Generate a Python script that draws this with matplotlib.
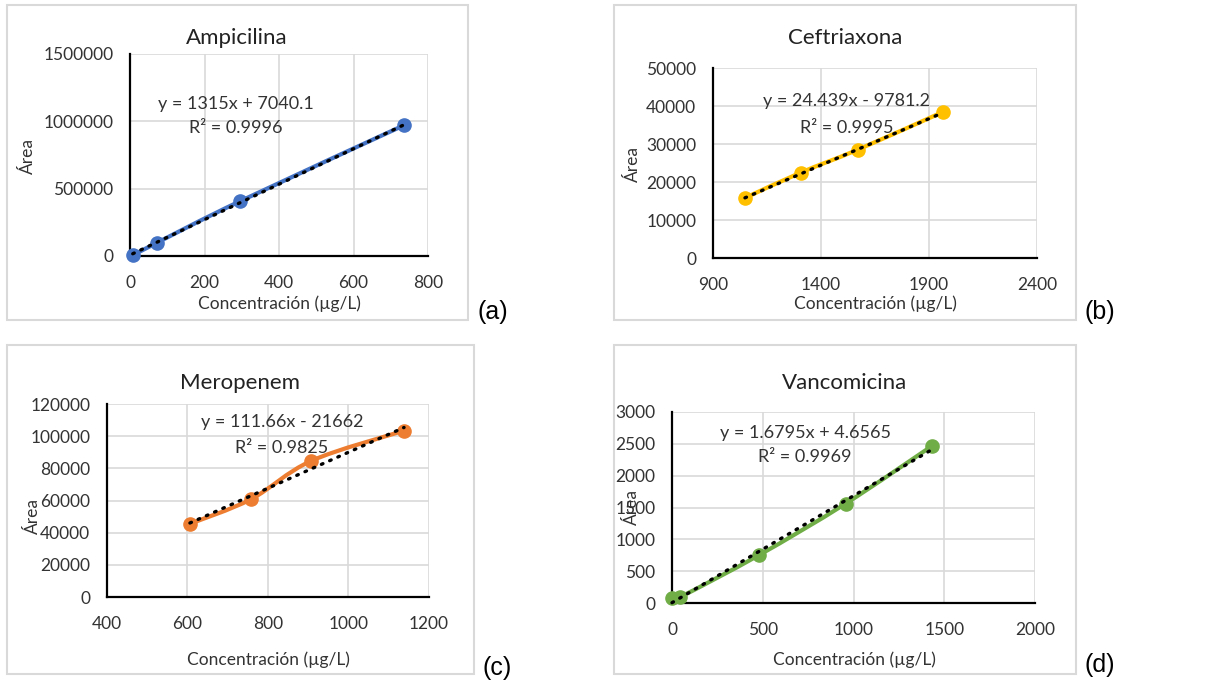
import numpy as np
import matplotlib
matplotlib.use('Agg')
import matplotlib.pyplot as plt
from matplotlib.path import Path
from matplotlib.patches import PathPatch, Rectangle

plt.rcParams['font.family'] = ['Lato', 'DejaVu Sans']

W, H = 1208, 683

# datos de calibración
amp_x = [7.35, 73.5, 294, 735]
amp_y = [5000, 100000, 405000, 970000]
cef_x = [1048, 1307, 1570, 1963]
cef_y = [15800, 22500, 28500, 38400]
mer_x = [606, 757, 908, 1138]
mer_y = [45500, 60700, 84700, 103400]
van_x = [0, 45, 478, 956, 1434]
van_y = [85, 95, 750, 1560, 2470]

# pendiente, intercepto y R² de cada línea de tendencia
trend_m = [1315, 24.439, 111.66, 1.6795]
trend_b = [7040.1, -9781.2, -21662, 4.6565]
eq_text = ['y = 1315x + 7040.1', 'y = 24.439x - 9781.2',
           'y = 111.66x - 21662', 'y = 1.6795x + 4.6565']
r2_text = ['R² = 0.9996', 'R² = 0.9995', 'R² = 0.9825', 'R² = 0.9969']

titles = ['Ampicilina', 'Ceftriaxona', 'Meropenem', 'Vancomicina']
letters = ['(a)', '(b)', '(c)', '(d)']
colors = ['#4472C4', '#FFC000', '#ED7D31', '#70AD47']

xticks = [[0, 200, 400, 600, 800], [900, 1400, 1900, 2400],
          [400, 600, 800, 1000, 1200], [0, 500, 1000, 1500, 2000]]
yticks = [[0, 500000, 1000000, 1500000], [0, 10000, 20000, 30000, 40000, 50000],
          [0, 20000, 40000, 60000, 80000, 100000, 120000],
          [0, 500, 1000, 1500, 2000, 2500, 3000]]

# posiciones en píxeles: ejes (izq, der, arriba, abajo) y marco
axes_px = [(130, 428, 54, 256), (713, 1037, 68, 258),
           (107, 429, 404, 597), (672, 1035, 412, 603)]
frame_px = [(7, 468, 5, 320), (614, 1076, 5, 320),
            (7, 474, 345, 674), (614, 1076, 345, 674)]
title_px = [(237, 38), (845, 38), (240, 383), (845, 383)]
eq_px = [(236, 104), (847, 101), (282, 422), (805, 433)]
r2_px = [(236, 128), (847, 128), (282, 448), (805, 457)]
xlab_px = [(279, 304), (875, 304), (268, 660), (854, 660)]
ylab_px = [(28, 156), (633, 164), (33, 516), (632, 507)]
let_px = [(493, 312), (1100, 312), (497, 668), (1100, 665)]


def fx(x):
    return x / W


def fy(y):
    return 1 - y / H


def smooth_path(xs, ys):
    # curva suavizada estilo Excel (Bezier por Catmull-Rom)
    p = np.column_stack([xs, ys]).astype(float)
    verts = [p[0]]
    codes = [Path.MOVETO]
    n = len(p)
    for i in range(n - 1):
        p0 = p[i - 1] if i > 0 else p[i]
        p3 = p[i + 2] if i + 2 < n else p[i + 1]
        c1 = p[i] + (p[i + 1] - p0) / 6
        c2 = p[i + 1] - (p3 - p[i]) / 6
        verts += [c1, c2, p[i + 1]]
        codes += [Path.CURVE4] * 3
    return Path(verts, codes)


fig = plt.figure(figsize=(W / 100, H / 100), dpi=100)

data = [(amp_x, amp_y), (cef_x, cef_y), (mer_x, mer_y), (van_x, van_y)]

for i in range(4):
    x0, x1, y0, y1 = frame_px[i]
    fig.patches.append(Rectangle((fx(x0), fy(y1)), (x1 - x0) / W, (y1 - y0) / H,
                                 transform=fig.transFigure, fill=False,
                                 edgecolor='#d9d9d9', lw=1.5, zorder=0))

    l, r, t, b = axes_px[i]
    ax = fig.add_axes([fx(l), fy(b), (r - l) / W, (b - t) / H])
    xs, ys = data[i]

    ax.add_patch(PathPatch(smooth_path(xs, ys), fill=False, edgecolor=colors[i],
                           lw=3, zorder=3, clip_on=False))
    ax.plot(xs, ys, 'o', color=colors[i], ms=9.5, zorder=4, clip_on=False)
    tx = np.array([xs[0], xs[-1]])
    ax.plot(tx, trend_m[i] * tx + trend_b[i], color='black', lw=2.4,
            linestyle=(0, (0.5, 2.2)), dash_capstyle='round', zorder=5,
            clip_on=False)

    ax.set_xlim(xticks[i][0], xticks[i][-1])
    ax.set_ylim(yticks[i][0], yticks[i][-1])
    ax.set_xticks(xticks[i])
    ax.set_xticklabels([str(v) for v in xticks[i]])
    ax.set_yticks(yticks[i])
    ax.set_yticklabels([str(v) for v in yticks[i]])
    ax.tick_params(length=0, labelsize=12.5, colors='#333333')
    ax.tick_params(axis='x', pad=14)
    ax.tick_params(axis='y', pad=12)
    ax.grid(True, color='#d9d9d9', lw=1.2)
    ax.set_axisbelow(True)
    for s in ['top', 'right']:
        ax.spines[s].set_visible(False)
    for s in ['left', 'bottom']:
        ax.spines[s].set_linewidth(1.6)
        ax.spines[s].set_zorder(2)

    fig.text(fx(title_px[i][0]), fy(title_px[i][1]), titles[i], fontsize=16,
             ha='center', va='center', color='#222222')
    fig.text(fx(eq_px[i][0]), fy(eq_px[i][1]), eq_text[i], fontsize=13,
             ha='center', va='center', color='#333333', zorder=6)
    fig.text(fx(r2_px[i][0]), fy(r2_px[i][1]), r2_text[i], fontsize=13,
             ha='center', va='center', color='#333333', zorder=6)
    fig.text(fx(xlab_px[i][0]), fy(xlab_px[i][1]), 'Concentración (µg/L)',
             fontsize=12.5, ha='center', va='center', color='#333333')
    fig.text(fx(ylab_px[i][0]), fy(ylab_px[i][1]), 'Área', fontsize=12.5,
             ha='center', va='center', rotation=90, color='#333333', zorder=6)
    fig.text(fx(let_px[i][0]), fy(let_px[i][1]), letters[i], fontsize=18,
             ha='center', va='center', family=['Liberation Sans', 'DejaVu Sans'])

fig.savefig('out.png', dpi=100)
